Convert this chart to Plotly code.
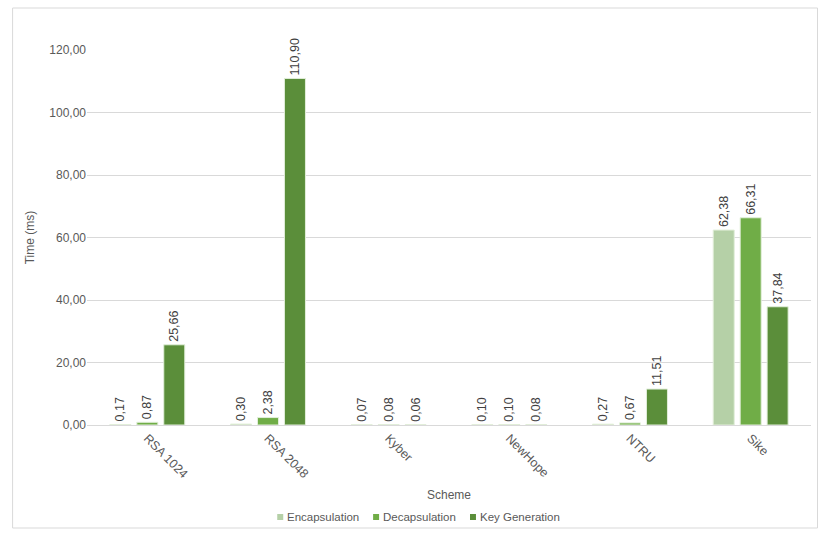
import plotly.graph_objects as go

schemes = ["RSA 1024", "RSA 2048", "Kyber", "NewHope", "NTRU", "Sike"]
encapsulation = [0.17, 0.30, 0.07, 0.10, 0.27, 62.38]
decapsulation = [0.87, 2.38, 0.08, 0.10, 0.67, 66.31]
key_generation = [25.66, 110.90, 0.06, 0.08, 11.51, 37.84]
y_ticks = [0, 20, 40, 60, 80, 100, 120]

series = [
    ("Encapsulation", encapsulation, "#B5D0A7"),
    ("Decapsulation", decapsulation, "#70AD47"),
    ("Key Generation", key_generation, "#5B8E3A"),
]

font_color = "#595959"
fnt = "Liberation Sans, Arial, sans-serif"

fig = go.Figure()
for name, vals, col in series:
    fig.add_trace(go.Bar(
        name=name, x=schemes, y=vals, showlegend=False,
        marker=dict(color=col, line=dict(color="#E2EFDA", width=1)),
        texttemplate="%{y:.2f}", textposition="outside", textangle=-90,
        constraintext="none",
        textfont=dict(size=12.5, color="#404040", family=fnt),
        cliponaxis=False,
    ))

L, R, T, B = 86.5, 18.5, 50, 112
W, H = 830, 537
pw, ph = W - L - R, H - T - B

def px(x):
    return (x - L) / pw

def py(y):
    return (H - B - y) / ph

# manual legend (square swatch close to text, as in the original)
legend_x = [277, 373, 470]
legend_y = 517
shapes = [dict(type="rect", xref="paper", yref="paper",
               x0=px(12), x1=px(818), y0=py(528), y1=py(8),
               line=dict(color="#D9D9D9", width=1), fillcolor="rgba(0,0,0,0)",
               layer="below")]
annotations = []
for (name, vals, col), lx in zip(series, legend_x):
    shapes.append(dict(type="rect", xref="paper", yref="paper",
                       x0=px(lx), x1=px(lx + 6), y0=py(legend_y + 3), y1=py(legend_y - 3),
                       line=dict(width=0), fillcolor=col))
    annotations.append(dict(text=name, xref="paper", yref="paper",
                            x=px(lx + 8), y=py(legend_y), xanchor="left", yanchor="middle",
                            showarrow=False, font=dict(size=11.5, color=font_color)))

fig.update_layout(
    width=W, height=H,
    margin=dict(l=L, r=R, t=T, b=B, autoexpand=False),
    paper_bgcolor="white", plot_bgcolor="white",
    separators=",.",
    barmode="group", bargap=0.33, bargroupgap=0.22,
    font=dict(family=fnt, size=12, color=font_color),
    showlegend=False,
    xaxis=dict(
        type="category", tickangle=45, showgrid=False,
        showline=True, linecolor="#D9D9D9", ticks="",
        tickfont=dict(size=12.5, color=font_color),
        title=dict(text="Scheme", font=dict(size=12, color=font_color), standoff=10),
    ),
    yaxis=dict(
        range=[0, 120], tickvals=y_ticks, tickformat=".2f",
        showgrid=True, gridcolor="#D9D9D9", gridwidth=1,
        zeroline=False, showline=False, ticks="",
        tickfont=dict(size=12, color=font_color),
        title=dict(text="Time (ms)", font=dict(size=12, color=font_color), standoff=12),
    ),
    shapes=shapes,
    annotations=annotations,
)
fig.write_html("out.html", config={"displayModeBar": False})
with open("out.html", "r", encoding="utf-8") as f:
    html = f.read()
html = html.replace("<body>", "<body style=\"margin:0\">", 1)
with open("out.html", "w", encoding="utf-8") as f:
    f.write(html)
